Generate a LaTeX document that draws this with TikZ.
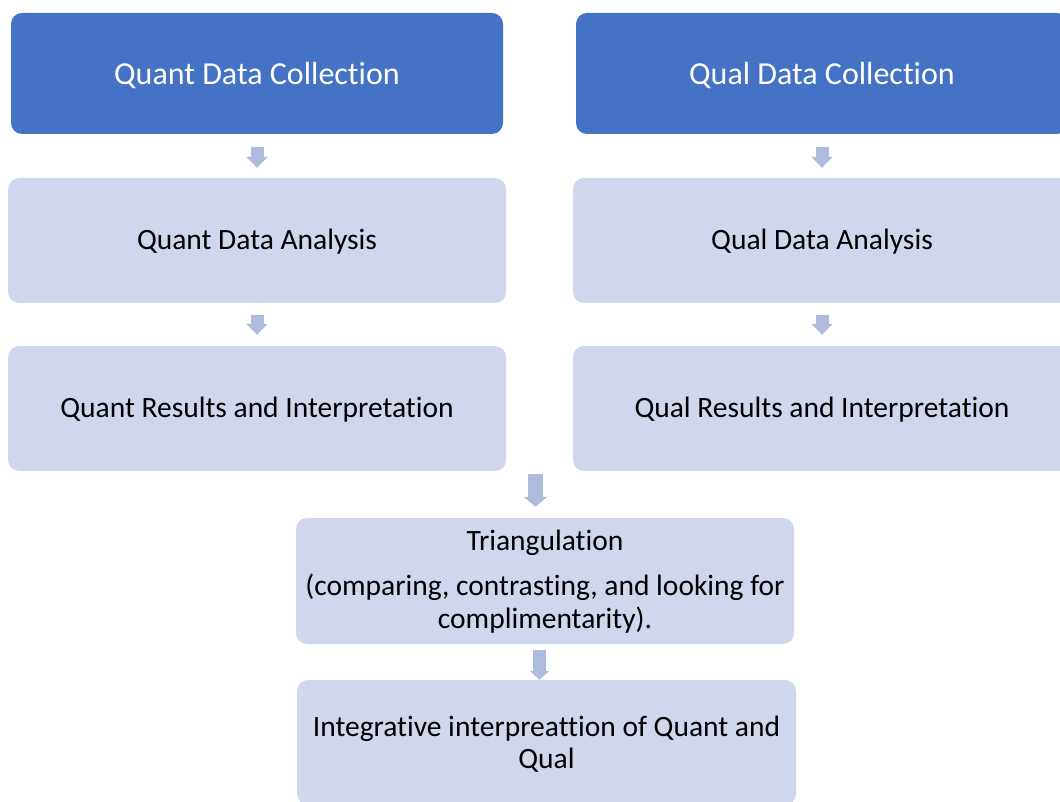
\documentclass[tikz,border=0pt]{standalone}
\usepackage{fontspec}
\setmainfont{Carlito}[Ligatures=CommonOff]
\usetikzlibrary{arrows.meta,calc}
\definecolor{darkblue}{HTML}{4472C4}
\definecolor{lightbox}{HTML}{D0D6EB}
\definecolor{arrowblue}{HTML}{AEBBDF}
\tikzset{
  topbox/.style={rectangle, rounded corners=11pt, fill=darkblue, text=white,
    minimum width=492pt, minimum height=121pt, inner sep=0pt, text depth=0pt,
    font=\fontsize{32}{36}\selectfont},
  stepbox/.style={rectangle, rounded corners=11pt, fill=lightbox, text=black,
    minimum width=498pt, minimum height=125pt, inner sep=0pt, align=center,
    text depth=2pt, font=\fontsize{29.5}{32.5}\selectfont},
  flow/.style={draw=arrowblue, line width=13pt,
    -{Triangle[length=11pt,width=21pt]}},
}
\begin{document}
\begin{tikzpicture}[x=1pt,y=-1pt]
\useasboundingbox (0,0) rectangle (1060,802);
\clip (0,0) rectangle (1060,802);

% quantitative strand
\node[topbox]  (qc) at (257,73.5)  {Quant Data Collection};
\node[stepbox] (qa) at (257,240.5) {Quant Data Analysis};
\node[stepbox] (qr) at (257,408.5) {Quant Results and Interpretation};

% qualitative strand
\node[topbox]  (lc) at (822,73.5)  {Qual Data Collection};
\node[stepbox] (la) at (822,240.5) {Qual Data Analysis};
\node[stepbox] (lr) at (822,408.5) {Qual Results and Interpretation};

% merging stages
\node[stepbox, minimum height=126pt, text depth=4pt] (tri) at (545,581)
  {Triangulation\\[13pt](comparing, contrasting, and looking for\\complimentarity).};
\node[stepbox, minimum width=499pt, text depth=0pt] (integ) at (546.5,742.5)
  {Integrative interpreattion of Quant and\\Qual};

% arrows inside each strand
\draw[flow, shorten <=13pt, shorten >=10pt] (qc.south) -- (qa.north);
\draw[flow, shorten <=12pt, shorten >=11pt] (qa.south) -- (qr.north);
\draw[flow, shorten <=13pt, shorten >=10pt] (lc.south) -- (la.north);
\draw[flow, shorten <=12pt, shorten >=11pt] (la.south) -- (lr.north);

% arrows into the merging stages
\coordinate (m1) at (535.5,471);
\draw[draw=arrowblue, line width=15pt, -{Triangle[length=10pt,width=23pt]},
  shorten <=3pt, shorten >=11pt] (m1) -- (m1 |- tri.north);
\coordinate (m2) at ($(tri.south)+(-5.5,0)$);
\draw[draw=arrowblue, line width=13pt, -{Triangle[length=9pt,width=19pt]},
  shorten <=6pt] (m2) -- (m2 |- integ.north);
\end{tikzpicture}
\end{document}
